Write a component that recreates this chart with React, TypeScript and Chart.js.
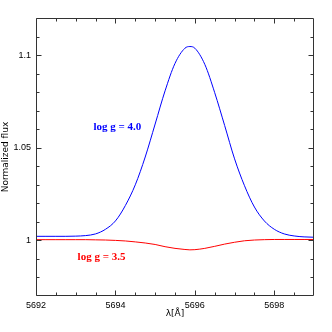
import React, { useEffect, useRef } from "react";
import { Chart, registerables } from "chart.js";

Chart.register(...registerables);

// Wavelength grid (Å)
const wavelength = [
  5692.0, 5692.25, 5692.5, 5692.75, 5693.0, 5693.25, 5693.5, 5693.75,
  5694.0, 5694.25, 5694.5, 5694.75, 5695.0, 5695.25, 5695.5, 5695.75,
  5695.875, 5696.0, 5696.25, 5696.5, 5696.75, 5697.0, 5697.25, 5697.5,
  5697.75, 5698.0, 5698.25, 5698.5, 5698.75, 5699.0,
];

// Normalized flux, log g = 4.0 (blue)
const fluxLogg40 = [
  1.0022, 1.0022, 1.0022, 1.0022, 1.0023, 1.0026, 1.0035, 1.006,
  1.0105, 1.0188, 1.03, 1.045, 1.0628, 1.0807, 1.0955, 1.1037,
  1.1046, 1.1037, 1.095, 1.0797, 1.062, 1.044, 1.0295, 1.018,
  1.0105, 1.006, 1.0035, 1.0024, 1.0019, 1.0017,
];

// Normalized flux, log g = 3.5 (red)
const fluxLogg35 = [
  1.0004, 1.0004, 1.0004, 1.0004, 1.0004, 1.0004, 1.0003, 1.0002,
  1.0, 0.9997, 0.9992, 0.9986, 0.9978, 0.9966, 0.9957, 0.9951,
  0.9949, 0.995, 0.9957, 0.9968, 0.998, 0.999, 0.9998, 1.0002,
  1.0004, 1.0005, 1.0005, 1.0005, 1.0005, 1.0005,
];

const xMajorTicks = [5692, 5694, 5696, 5698];
const xMinorTicks = [
  5692.5, 5693, 5693.5, 5694.5, 5695, 5695.5, 5696.5, 5697, 5697.5,
  5698.5,
];
const yMajorTicks = [1, 1.05, 1.1];
const yMinorTicks = [
  0.98, 0.99, 1.01, 1.02, 1.03, 1.04, 1.06, 1.07, 1.08, 1.09, 1.11,
];

const seriesLabels = ["log g = 4.0", "log g = 3.5"];
const seriesColors = ["#0000ff", "#ff0000"];
// annotation anchors in data coordinates [wavelength, flux]
const labelAnchors = [
  [5694.05, 1.0613],
  [5693.65, 0.991],
];

const X_MIN = 5692;
const X_MAX = 5699;
const Y_MIN = 0.97;
const Y_MAX = 1.12;

const framePlugin = {
  id: "frameTicks",
  afterDraw(chart: any) {
    const { ctx, chartArea: a, scales } = chart;
    const xs = scales.x;
    const ys = scales.y;
    const L = Math.round(a.left) + 0.5;
    const R = Math.round(a.right) - 0.5;
    const T = Math.round(a.top) + 0.5;
    const B = Math.round(a.bottom) - 0.5;
    ctx.save();
    ctx.strokeStyle = "#333333";
    ctx.lineWidth = 1;
    ctx.beginPath();
    ctx.rect(L, T, R - L, B - T);
    ctx.stroke();
    const major = 5;
    const minor = 3;
    ctx.beginPath();
    const xt = (vals: number[], len: number) => {
      vals.forEach((v) => {
        const p = Math.round(xs.getPixelForValue(v)) + 0.5;
        ctx.moveTo(p, B);
        ctx.lineTo(p, B - len);
        ctx.moveTo(p, T);
        ctx.lineTo(p, T + len);
      });
    };
    const yt = (vals: number[], len: number) => {
      vals.forEach((v) => {
        const p = Math.round(ys.getPixelForValue(v)) + 0.5;
        ctx.moveTo(L, p);
        ctx.lineTo(L + len, p);
        ctx.moveTo(R, p);
        ctx.lineTo(R - len, p);
      });
    };
    xt(xMajorTicks, major);
    xt(xMinorTicks, minor);
    yt(yMajorTicks, major);
    yt(yMinorTicks, minor);
    ctx.stroke();

    ctx.font = 'bold 11px "Liberation Serif"';
    ctx.textAlign = "center";
    ctx.textBaseline = "middle";
    seriesLabels.forEach((t, i) => {
      ctx.fillStyle = seriesColors[i];
      ctx.fillText(
        t,
        xs.getPixelForValue(labelAnchors[i][0]),
        ys.getPixelForValue(labelAnchors[i][1])
      );
    });
    ctx.restore();
  },
};

export default function App() {
  const ref = useRef<HTMLCanvasElement | null>(null);
  useEffect(() => {
    document.body.style.margin = "0";
    const canvas = ref.current;
    if (!canvas) return;
    const makeData = (vals: number[]) =>
      wavelength.map((w, i) => ({ x: w, y: vals[i] }));
    const chart = new Chart(canvas, {
      type: "line",
      data: {
        datasets: [
          {
            label: seriesLabels[0],
            data: makeData(fluxLogg40),
            borderColor: seriesColors[0],
            borderWidth: 1,
            pointRadius: 0,
            cubicInterpolationMode: "monotone",
            fill: false,
          },
          {
            label: seriesLabels[1],
            data: makeData(fluxLogg35),
            borderColor: seriesColors[1],
            borderWidth: 1,
            pointRadius: 0,
            cubicInterpolationMode: "monotone",
            fill: false,
          },
        ],
      },
      options: {
        responsive: false,
        animation: false,
        devicePixelRatio: 1,
        layout: { padding: { left: 0, top: 18, right: 18, bottom: 0 } },
        plugins: {
          legend: { display: false },
          tooltip: { enabled: false },
        },
        scales: {
          x: {
            type: "linear",
            min: X_MIN,
            max: X_MAX,
            grid: { display: false, drawTicks: false },
            border: { display: false },
            afterBuildTicks: (s: any) => {
              s.ticks = xMajorTicks.map((v) => ({ value: v }));
            },
            afterFit: (s: any) => {
              s.height = 36;
            },
            ticks: {
              padding: 4,
              maxRotation: 0,
              color: "#000",
              font: { family: '"Liberation Sans"', size: 9 },
              callback: (v: any) => String(v),
            },
            title: {
              display: true,
              text: "λ[Å]",
              color: "#000",
              font: { family: '"DejaVu Sans"', size: 9 },
              padding: { top: 0, bottom: 13 },
            },
          },
          y: {
            type: "linear",
            min: Y_MIN,
            max: Y_MAX,
            grid: { display: false, drawTicks: false },
            border: { display: false },
            afterBuildTicks: (s: any) => {
              s.ticks = yMajorTicks.map((v) => ({ value: v }));
            },
            afterFit: (s: any) => {
              s.width = 36;
            },
            ticks: {
              padding: 5,
              color: "#000",
              font: { family: '"Liberation Sans"', size: 9 },
              callback: (v: any) => String(Math.round(v * 100) / 100),
            },
            title: {
              display: true,
              text: "Normalized flux",
              color: "#000",
              font: { family: '"DejaVu Sans"', size: 9 },
              padding: { top: 0, bottom: 0 },
            },
          },
        },
      },
      plugins: [framePlugin],
    } as any);
    return () => chart.destroy();
  }, []);
  return (
    <div style={{ position: "absolute", left: 0, top: 0, width: 332, height: 332, background: "#fff" }}>
      <canvas ref={ref} width={332} height={332} />
    </div>
  );
}
